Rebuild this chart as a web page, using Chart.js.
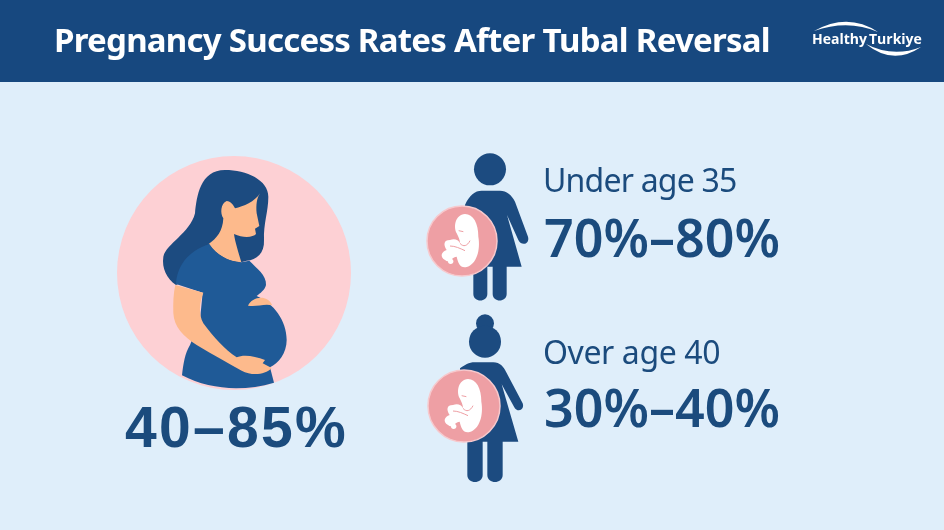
<!DOCTYPE html>
<html>
<head>
<meta charset="utf-8">
<title>Pregnancy Success Rates After Tubal Reversal</title>
<script src="https://cdn.jsdelivr.net/npm/chart.js@4"></script>
<style>
  html, body { margin: 0; padding: 0; background: #dfeefa; }
  canvas { display: block; }
</style>
</head>
<body>
<canvas id="chart" width="944" height="530"></canvas>
<script>
// values
const chartTitle = 'Pregnancy Success Rates After Tubal Reversal';
const groupLabels = ['Under age 35', 'Over age 40'];
const groupLow = [70, 30];
const groupHigh = [80, 40];
const overallLow = 40;
const overallHigh = 85;

// layout, in page pixels
const BLUE_HEADER = '#17487f';
const BLUE_TEXT = '#1b4b7d';
const BLUE_DRESS = '#1f5a97';
const BLUE_HAIR = '#1c4b80';
const SKIN = '#fdba8c';
const PINK = '#ee9fa4';
const BG = '#dfeefa';
const groupLabelY = [192, 364];
const groupLabelSpacing = ['-0.8px', '-0.4px'];
const groupRangeY = [257, 427];

// illustration outlines, drawn in 3x crop coordinates
const hair = new Path2D('M375 90C440 90 505 120 505 170C505 215 490 250 492 300C494 340 470 360 440 362L300 400L228 435C200 415 185 385 190 350C200 310 270 280 285 220C290 170 300 90 375 90Z');
const face = new Path2D('M480 160C470 175 468 195 470 220L478 258L465 266L468 282C460 292 430 295 402 282C405 305 415 335 424 367C385 365 350 345 326 312C350 295 368 275 370 235C360 220 362 190 380 183C392 183 400 195 405 205C430 200 465 185 480 160Z');
const dress = new Path2D('M328 312C350 345 385 365 424 367L448 362C470 385 500 405 498 435C495 450 480 460 470 468C520 490 560 540 560 600C560 640 535 670 510 682L522 728C430 755 330 750 246 706C250 670 255 640 270 615L300 540L308 458L228 432C232 380 260 335 328 312Z');
const arm = new Path2D('M226 435L310 458C298 490 295 520 310 550C340 590 375 630 410 652C430 642 465 648 495 660L488 670L515 684C495 705 455 708 425 692C385 670 340 645 290 615C250 590 222 560 220 520C219 490 220 460 226 435Z');
const hand = new Path2D('M444 497C455 472 500 460 517 496C490 490 470 502 444 497Z');

const fetus = new Path2D('M165 222C190 222 205 250 205 290C212 330 200 372 170 381C150 385 145 370 140 350C125 350 120 372 105 360C88 350 95 335 110 330C100 315 100 300 120 300C135 295 145 300 150 310C150 300 145 290 140 280C130 260 135 225 165 222Z');
const fetusLines = new Path2D('M146 272L160 275M150 310C160 322 172 318 180 302M120 318C135 318 150 325 165 332');

const womanA = new Path2D('M165 195C178 165 195 152 215 152H270C290 152 305 165 315 185L354 290C360 312 335 320 325 300L291 225L335 380H290V462C290 488 248 488 248 462V380H232V462C232 488 190 488 190 462V380H150Z');
const womanB = new Path2D('M150 190C165 180 175 172 195 172H250C270 172 280 185 288 200L338 295C345 315 322 325 312 305L275 238L325 410H278V510C278 538 232 538 232 510V410H218V510C218 538 172 538 172 510V410H160Z');

function drawIn(ctx, x, y, fn) {
  ctx.save();
  ctx.translate(x, y);
  ctx.scale(1 / 3, 1 / 3);
  fn();
  ctx.restore();
}

function text(ctx, str, x, y, font, color, spacing) {
  ctx.font = font;
  ctx.fillStyle = color;
  ctx.letterSpacing = spacing || '0px';
  ctx.textAlign = 'left';
  ctx.textBaseline = 'alphabetic';
  ctx.fillText(str, x, y);
  ctx.letterSpacing = '0px';
}

function drawFetus(ctx) {
  ctx.fillStyle = '#fff';
  ctx.fill(fetus);
  ctx.beginPath();
  ctx.arc(122, 364, 8, 0, Math.PI * 2);
  ctx.fill();
  ctx.strokeStyle = PINK;
  ctx.lineWidth = 3;
  ctx.stroke(fetusLines);
}

const infographic = {
  id: 'infographic',
  beforeDatasetsDraw(chart) {
    const ctx = chart.ctx;
    ctx.save();
    ctx.fillStyle = BG;
    ctx.fillRect(0, 0, 944, 530);
    ctx.fillStyle = BLUE_HEADER;
    ctx.fillRect(0, 0, 944, 82);

    // figures behind the small circles
    drawIn(ctx, 410, 140, () => {
      ctx.fillStyle = BLUE_HAIR;
      ctx.beginPath();
      ctx.arc(240, 88, 48, 0, Math.PI * 2);
      ctx.fill();
      ctx.fill(womanA);
    });
    drawIn(ctx, 410, 305, () => {
      ctx.fillStyle = BLUE_HAIR;
      ctx.beginPath();
      ctx.arc(225, 55, 27, 0, Math.PI * 2);
      ctx.fill();
      ctx.beginPath();
      ctx.arc(225, 110, 48, 0, Math.PI * 2);
      ctx.fill();
      ctx.fill(womanB);
    });
    ctx.restore();
  },
  afterDatasetsDraw(chart) {
    const ctx = chart.ctx;
    ctx.save();

    drawIn(ctx, 100, 140, () => {
      ctx.fillStyle = BLUE_HAIR;
      ctx.fill(hair);
      ctx.fillStyle = SKIN;
      ctx.fill(face);
      ctx.fillStyle = BLUE_DRESS;
      ctx.fill(dress);
      ctx.fillStyle = SKIN;
      ctx.fill(arm);
      ctx.fill(hand);
    });

    drawIn(ctx, 410, 140, () => drawFetus(ctx));
    drawIn(ctx, 413, 305, () => drawFetus(ctx));

    // logo
    ctx.fillStyle = '#fff';
    ctx.beginPath();
    ctx.moveTo(814, 31);
    ctx.quadraticCurveTo(848, 12, 878, 32);
    ctx.quadraticCurveTo(848, 19, 814, 31);
    ctx.fill();
    ctx.beginPath();
    ctx.moveTo(866, 44);
    ctx.quadraticCurveTo(893, 66, 921, 47);
    ctx.quadraticCurveTo(893, 58, 866, 44);
    ctx.fill();
    text(ctx, 'Healthy', 812, 44, 'bold 14px "Open Sans"', '#fff');
    text(ctx, 'Turkiye', 869, 44, 'bold 14px "Open Sans"', '#fff');

    text(ctx, chartTitle, 54, 52, 'bold 33px "Noto Sans"', '#fff', '-0.75px');
    text(ctx, `${overallLow}\u2013${overallHigh}%`, 125, 447, 'bold 57px "Liberation Sans"', BLUE_TEXT, '2.3px');
    groupLabels.forEach((label, i) => {
      text(ctx, label, 543, groupLabelY[i], '32px "Noto Sans"', BLUE_TEXT, groupLabelSpacing[i]);
      text(ctx, `${groupLow[i]}%\u2013${groupHigh[i]}%`, 544, groupRangeY[i], '600 52px "Noto Sans"', BLUE_TEXT);
    });
    ctx.restore();
  }
};

new Chart(document.getElementById('chart'), {
  type: 'bubble',
  data: {
    datasets: [{
      label: 'circles',
      data: [
        { x: 234, y: 273, r: 117 },
        { x: 462, y: 241, r: 35 },
        { x: 464, y: 406, r: 36 }
      ],
      backgroundColor: ['#fdd0d4', PINK, PINK],
      borderColor: ['#fdd0d4', '#f7c9cd', '#f7c9cd'],
      borderWidth: [0, 1.5, 1.5]
    }]
  },
  options: {
    responsive: false,
    animation: false,
    devicePixelRatio: 1,
    layout: { padding: 0, autoPadding: false },
    plugins: { legend: { display: false }, tooltip: { enabled: false } },
    scales: {
      x: { type: 'linear', display: false, min: 0, max: 944 },
      y: { type: 'linear', display: false, min: 0, max: 530, reverse: true }
    }
  },
  plugins: [infographic]
});
</script>
</body>
</html>
